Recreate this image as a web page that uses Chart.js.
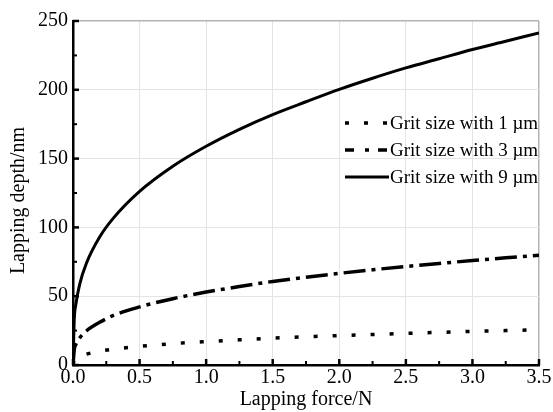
<!DOCTYPE html>
<html>
<head>
<meta charset="utf-8">
<script src="https://cdn.jsdelivr.net/npm/chart.js@4/dist/chart.umd.min.js"></script>
<style>
  body { margin: 0; background: #fff; }
</style>
</head>
<body>
<canvas id="chart" width="553" height="412"></canvas>
<script>
// values
const forceN   = [0, 0.01, 0.02, 0.05, 0.1, 0.2, 0.3, 0.5, 0.75, 1.0, 1.25, 1.5, 1.75, 2.0, 2.25, 2.5, 2.75, 3.0, 3.25, 3.5];
const depth1um = [0, 3.7, 4.7, 6.3, 7.9, 10.0, 11.5, 13.5, 15.5, 17.0, 18.3, 19.5, 20.5, 21.4, 22.2, 23.0, 23.7, 24.4, 25.0, 25.6];
const depth3um = [0, 11.6, 14.6, 19.7, 24.7, 31.0, 35.9, 42.2, 48.2, 53.0, 57.0, 60.7, 63.8, 66.6, 69.2, 71.6, 73.8, 75.9, 77.9, 79.8];
const depth9um = [0, 34.3, 43.2, 58.6, 73.8, 93.0, 106.4, 126.2, 144.5, 159.0, 171.3, 182.0, 191.3, 200.3, 208.4, 215.9, 222.6, 229.3, 235.3, 241.3];
const seriesLabels = ['Grit size with 1 \u00b5m', 'Grit size with 3 \u00b5m', 'Grit size with 9 \u00b5m'];

const FONT = '"Liberation Serif", "Times New Roman", serif';

function toPoints(ys) {
    return forceN.map((x, i) => ({ x: x, y: ys[i] }));
}

// small inward tick marks (major + minor), like the original plot
const innerTicks = {
    id: 'innerTicks',
    afterDatasetsDraw(chart) {
        const ctx = chart.ctx;
        const xs = chart.scales.x, ys = chart.scales.y;
        const area = chart.chartArea;
        ctx.save();
        ctx.strokeStyle = '#000';
        for (let v = 0; v <= 3.5001; v += 0.25) {
            const major = Math.abs(v * 2 - Math.round(v * 2)) < 1e-6;
            const px = xs.getPixelForValue(v);
            ctx.lineWidth = major ? 2.5 : 2;
            ctx.beginPath();
            ctx.moveTo(px, area.bottom);
            ctx.lineTo(px, area.bottom - (major ? 6 : 4));
            ctx.stroke();
        }
        for (let v = 0; v <= 250; v += 25) {
            const major = v % 50 === 0;
            const py = ys.getPixelForValue(v);
            ctx.lineWidth = major ? 2.5 : 2;
            ctx.beginPath();
            ctx.moveTo(area.left, py);
            ctx.lineTo(area.left + (major ? 6 : 4), py);
            ctx.stroke();
        }
        ctx.restore();
    }
};

// legend drawn inside the plot area
const insideLegend = {
    id: 'insideLegend',
    afterDraw(chart) {
        const ctx = chart.ctx;
        ctx.save();
        ctx.font = '19px ' + FONT;
        ctx.textBaseline = 'middle';
        ctx.fillStyle = '#000';
        ctx.strokeStyle = '#000';
        chart.data.datasets.forEach((ds, i) => {
            const y = 123 + i * 27;
            ctx.beginPath();
            ctx.setLineDash(ds.legendDash || []);
            ctx.lineWidth = ds.borderWidth;
            ctx.moveTo(345, y);
            ctx.lineTo(389, y);
            ctx.stroke();
            ctx.setLineDash([]);
            ctx.fillText(ds.label, 390, y + 1);
        });
        ctx.restore();
    }
};

new Chart(document.getElementById('chart'), {
    type: 'line',
    data: {
        datasets: [
            {
                label: seriesLabels[0],
                data: toPoints(depth1um),
                borderColor: '#000',
                borderWidth: 3.5,
                borderDash: [4, 15],
                legendDash: [4, 15],
                pointRadius: 0,
                cubicInterpolationMode: 'monotone'
            },
            {
                label: seriesLabels[1],
                data: toPoints(depth3um),
                borderColor: '#000',
                borderWidth: 3.5,
                borderDash: [22, 6, 4, 6],
                legendDash: [9, 11, 4, 9],
                pointRadius: 0,
                cubicInterpolationMode: 'monotone'
            },
            {
                label: seriesLabels[2],
                data: toPoints(depth9um),
                borderColor: '#000',
                borderWidth: 3,
                pointRadius: 0,
                cubicInterpolationMode: 'monotone'
            }
        ]
    },
    options: {
        responsive: false,
        animation: false,
        layout: { padding: { top: 21, right: 14, left: 0, bottom: 0 } },
        plugins: {
            legend: { display: false },
            tooltip: { enabled: false }
        },
        scales: {
            x: {
                type: 'linear',
                min: 0,
                max: 3.5,
                afterFit: function(scale) { scale.height = 47; },
                ticks: {
                    stepSize: 0.5,
                    padding: 1,
                    color: '#000',
                    font: { family: FONT, size: 20 },
                    callback: v => v.toFixed(1)
                },
                grid: {
                    drawTicks: false,
                    color: ctx => (ctx.tick && ctx.tick.value === 3.5) ? '#b4b4b4' : '#e4e4e4',
                    lineWidth: ctx => (ctx.tick && ctx.tick.value === 3.5) ? 1.5 : 1
                },
                border: { color: '#000', width: 2.5 },
                title: {
                    display: true,
                    text: 'Lapping force/N',
                    color: '#000',
                    font: { family: FONT, size: 20 },
                    padding: { top: 0, bottom: 0 }
                }
            },
            y: {
                min: 0,
                max: 250,
                afterFit: function(scale) { scale.width = 73; },
                ticks: {
                    stepSize: 50,
                    padding: 5,
                    color: '#000',
                    font: { family: FONT, size: 20 }
                },
                grid: {
                    drawTicks: false,
                    color: ctx => (ctx.tick && ctx.tick.value === 250) ? '#b4b4b4' : '#e4e4e4',
                    lineWidth: ctx => (ctx.tick && ctx.tick.value === 250) ? 1.5 : 1
                },
                border: { color: '#000', width: 2.5 },
                title: {
                    display: true,
                    text: 'Lapping depth/nm   ',
                    color: '#000',
                    font: { family: FONT, size: 20 },
                    padding: { top: 7, bottom: 0 }
                }
            }
        }
    },
    plugins: [innerTicks, insideLegend]
});
</script>
</body>
</html>
